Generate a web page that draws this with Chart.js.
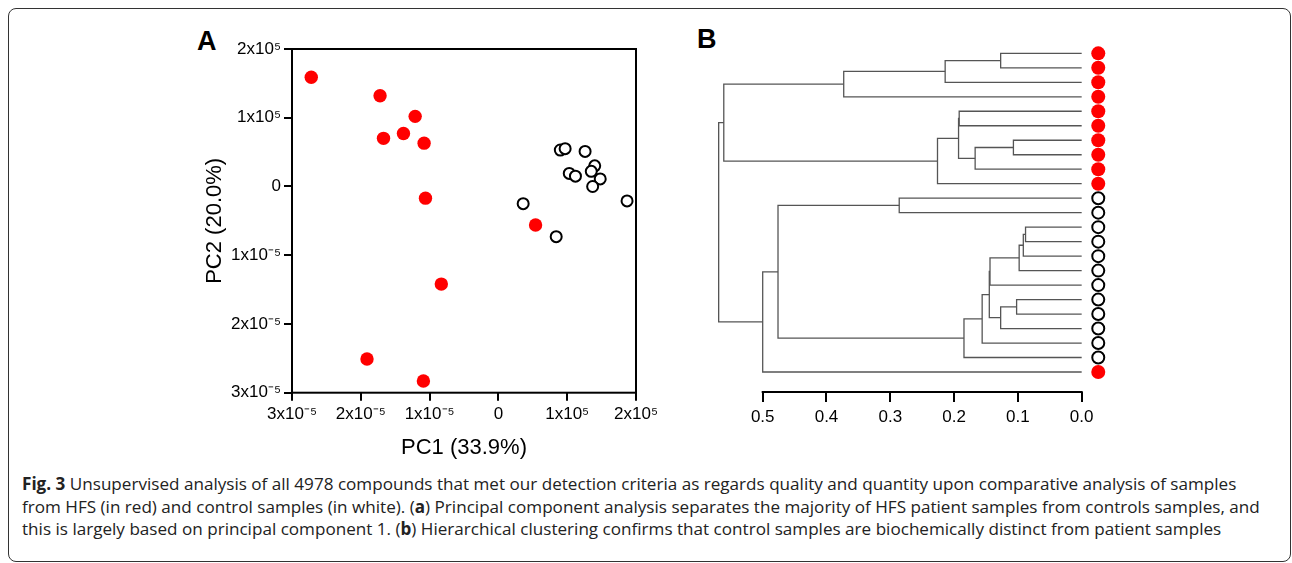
<!DOCTYPE html>
<html lang="en">
<head>
    <meta charset="UTF-8">
    <title>Fig. 3</title>
    <script src="https://cdn.jsdelivr.net/npm/chart.js"></script>
    <style>
        body { margin: 0; background: #fff; }
        .figure { position: relative; width: 1292px; height: 563px; overflow: hidden; }
        .frame {
            position: absolute; left: 8px; top: 8px; width: 1283px; height: 554px;
            border: 1.5px solid #333; border-radius: 8px; box-sizing: border-box;
        }
        .panel-label {
            position: absolute; font-family: "Liberation Sans", Arial, sans-serif;
            font-weight: bold; font-size: 27px; line-height: 1; color: #000;
        }
        canvas { position: absolute; }
        .caption {
            position: absolute; left: 22px; top: 473px; width: 1265px;
            font-family: "Open Sans", Lato, sans-serif; font-size: 17.1px;
            line-height: 22.5px; color: #222; white-space: nowrap;
        }
    </style>
</head>
<body>
<div class="figure">
    <div class="frame"></div>
    <div class="panel-label" style="left:197px; top:28px;">A</div>
    <div class="panel-label" style="left:697px; top:26px;">B</div>
    <canvas id="pcaChart" width="490" height="450" style="left:190px; top:20px;"></canvas>
    <canvas id="treeChart" width="440" height="450" style="left:680px; top:20px;"></canvas>
    <div class="caption">
        <b>Fig. 3</b> Unsupervised analysis of all 4978 compounds that met our detection criteria as regards quality and quantity upon comparative analysis of samples<br>
        from HFS (in red) and control samples (in white). (<b>a</b>) Principal component analysis separates the majority of HFS patient samples from controls samples, and<br>
        this is largely based on principal component 1. (<b>b</b>) Hierarchical clustering confirms that control samples are biochemically distinct from patient samples
    </div>
</div>

<script>
    // ---- PCA data (units of 1x10^5) ----
    const hfsPC1 = [-2.72, -1.72, -1.21, -1.67, -1.38, -1.08, -1.06, 0.54, -0.83, -1.91, -1.09];
    const hfsPC2 = [1.59, 1.32, 1.02, 0.70, 0.77, 0.63, -0.17, -0.56, -1.42, -2.51, -2.83];
    const ctrlPC1 = [0.90, 0.97, 1.26, 1.40, 1.35, 1.48, 1.03, 1.12, 1.37, 1.87, 0.36, 0.84];
    const ctrlPC2 = [0.53, 0.55, 0.51, 0.30, 0.22, 0.11, 0.19, 0.15, 0.00, -0.21, -0.25, -0.73];
    const pcTicks = [-3, -2, -1, 0, 1, 2];
    const pc1TickLabels = ['3x10\u207B\u2075', '2x10\u207B\u2075', '1x10\u207B\u2075', '0', '1x10\u2075', '2x10\u2075'];
    const pc2TickLabels = ['3x10\u207B\u2075', '2x10\u207B\u2075', '1x10\u207B\u2075', '0', '1x10\u2075', '2x10\u2075'];

    // ---- dendrogram data ----
    // leaves top to bottom: 'hfs' = red, 'ctrl' = white
    const leafGroups = ['hfs', 'hfs', 'hfs', 'hfs', 'hfs', 'hfs', 'hfs', 'hfs', 'hfs', 'hfs',
        'ctrl', 'ctrl', 'ctrl', 'ctrl', 'ctrl', 'ctrl', 'ctrl', 'ctrl', 'ctrl', 'ctrl', 'ctrl', 'ctrl',
        'hfs'];
    // linkage: [childA, childB, height]; ids < 23 are leaves, 23 + k is merge k
    const merges = [
        [0, 1, 0.127], [23, 2, 0.214], [24, 3, 0.373],
        [6, 7, 0.107], [26, 8, 0.167], [4, 5, 0.192], [28, 27, 0.193], [29, 9, 0.226],
        [25, 30, 0.561],
        [10, 11, 0.286],
        [12, 13, 0.088], [33, 14, 0.0915], [34, 15, 0.098],
        [17, 18, 0.102], [36, 19, 0.127],
        [35, 16, 0.1437], [38, 37, 0.1448], [39, 20, 0.156], [40, 21, 0.1845],
        [32, 41, 0.476], [42, 22, 0.500], [31, 43, 0.569]
    ];
    const distTicks = [0, 0.1, 0.2, 0.3, 0.4, 0.5];

    const axisFont = { family: '"Liberation Sans", Arial, sans-serif', size: 17 };
    const titleFont = { family: '"Liberation Sans", Arial, sans-serif', size: 22 };

    // box around plot area
    const frameBox = {
        id: 'frameBox',
        afterDraw(chart) {
            const { ctx, chartArea: a } = chart;
            ctx.save();
            ctx.strokeStyle = '#000';
            ctx.lineWidth = 2;
            ctx.strokeRect(a.left, a.top, a.right - a.left, a.bottom - a.top);
            ctx.restore();
        }
    };

    new Chart(document.getElementById('pcaChart'), {
        type: 'scatter',
        data: {
            datasets: [{
                label: 'HFS',
                data: hfsPC1.map((x, i) => ({ x: x, y: hfsPC2[i] })),
                backgroundColor: '#ff0000',
                borderWidth: 0,
                pointRadius: 6.7
            }, {
                label: 'Control',
                data: ctrlPC1.map((x, i) => ({ x: x, y: ctrlPC2[i] })),
                backgroundColor: '#fff',
                borderColor: '#000',
                borderWidth: 2,
                pointRadius: 5.5
            }]
        },
        options: {
            responsive: false,
            animation: false,
            layout: { padding: { left: 0, top: 29, right: 44, bottom: 0 } },
            plugins: { legend: { display: false }, tooltip: { enabled: false } },
            scales: {
                x: {
                    min: -3, max: 2,
                    afterBuildTicks: s => { s.ticks = pcTicks.map(v => ({ value: v })); },
                    afterFit: s => { s.height = 77.3; },
                    border: { display: false },
                    grid: { drawOnChartArea: false, drawTicks: true, tickLength: 8, color: '#000', lineWidth: 2 },
                    ticks: {
                        color: '#000', font: axisFont, padding: 3, maxRotation: 0,
                        callback: v => pc1TickLabels[pcTicks.indexOf(v)]
                    },
                    title: { display: true, text: 'PC1 (33.9%)', color: '#000', font: titleFont, padding: { top: 0, bottom: 8.8 } }
                },
                y: {
                    min: -3, max: 2,
                    afterBuildTicks: s => { s.ticks = pcTicks.map(v => ({ value: v })); },
                    afterFit: s => { s.width = 102; },
                    border: { display: false },
                    grid: { drawOnChartArea: false, drawTicks: true, tickLength: 8, color: '#000', lineWidth: 2 },
                    ticks: {
                        color: '#000', font: axisFont, padding: 3,
                        callback: v => pc2TickLabels[pcTicks.indexOf(v)]
                    },
                    title: { display: true, text: 'PC2 (20.0%)', color: '#000', font: titleFont, padding: { top: 11.8, bottom: 0 } }
                }
            }
        },
        plugins: [frameBox]
    });

    // build U-shaped links from the linkage table
    const nodePos = leafGroups.map((g, i) => ({ h: 0, y: i }));
    const linkSets = merges.map(([a, b, h]) => {
        const pa = nodePos[a], pb = nodePos[b];
        nodePos.push({ h: h, y: (pa.y + pb.y) / 2 });
        return {
            data: [{ x: pa.h, y: pa.y }, { x: h, y: pa.y }, { x: h, y: pb.y }, { x: pb.h, y: pb.y }],
            showLine: true,
            borderColor: '#555',
            borderWidth: 1.3,
            pointRadius: 0,
            fill: false
        };
    });

    const leafX = -0.026;
    const leafIdx = leafGroups.map((g, i) => i);

    // axis baseline only spans the labelled range
    const distBaseline = {
        id: 'distBaseline',
        afterDraw(chart) {
            const s = chart.scales.x, ctx = chart.ctx;
            ctx.save();
            ctx.strokeStyle = '#000';
            ctx.lineWidth = 2;
            ctx.beginPath();
            ctx.moveTo(s.getPixelForValue(distTicks[distTicks.length - 1]) - 1, s.top);
            ctx.lineTo(s.getPixelForValue(distTicks[0]) + 1, s.top);
            ctx.stroke();
            ctx.restore();
        }
    };

    new Chart(document.getElementById('treeChart'), {
        type: 'scatter',
        data: {
            datasets: linkSets.concat([{
                label: 'HFS',
                data: leafIdx.filter(i => leafGroups[i] === 'hfs').map(i => ({ x: leafX, y: i })),
                backgroundColor: '#ff0000',
                borderWidth: 0,
                pointRadius: 7
            }, {
                label: 'Control',
                data: leafIdx.filter(i => leafGroups[i] === 'ctrl').map(i => ({ x: leafX, y: i })),
                backgroundColor: '#fff',
                borderColor: '#000',
                borderWidth: 2,
                pointRadius: 6
            }])
        },
        options: {
            responsive: false,
            animation: false,
            layout: { padding: { left: 18.9, top: 20, right: 12.8, bottom: 0 } },
            plugins: { legend: { display: false }, tooltip: { enabled: false } },
            scales: {
                x: {
                    reverse: true,
                    min: -0.04, max: 0.6,
                    afterBuildTicks: s => { s.ticks = distTicks.map(v => ({ value: v })); },
                    afterFit: s => { s.height = 78; },
                    border: { display: false },
                    grid: { drawOnChartArea: false, drawTicks: true, tickLength: 10, color: '#000', lineWidth: 2 },
                    ticks: { color: '#000', font: axisFont, padding: 5, maxRotation: 0, callback: v => v.toFixed(1) }
                },
                y: {
                    display: false,
                    reverse: true,
                    min: -0.92, max: 23.38
                }
            }
        },
        plugins: [distBaseline]
    });
</script>
</body>
</html>
